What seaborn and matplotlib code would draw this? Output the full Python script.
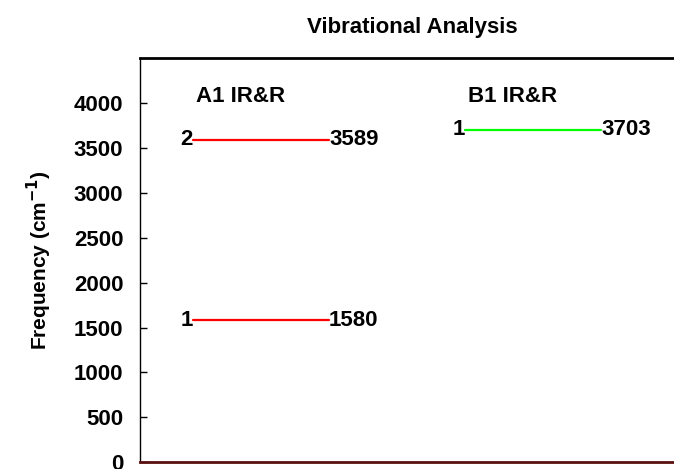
import matplotlib
matplotlib.use("Agg")
import matplotlib.pyplot as plt
import seaborn as sns
import pandas as pd

# Vibrational modes: symmetry species, mode index and frequency (cm^-1)
species = ["A1 IR&R", "A1 IR&R", "B1 IR&R"]
mode_no = [2, 1, 1]
freq = [3589, 1580, 3703]
species_order = ["A1 IR&R", "B1 IR&R"]
species_colors = ["#ff0000", "#00ff00"]
yticks = [0, 500, 1000, 1500, 2000, 2500, 3000, 3500, 4000]

sns.set_theme(style="white")
plt.rcParams["font.family"] = ["Liberation Sans", "DejaVu Sans"]
plt.rcParams["font.weight"] = "bold"
plt.rcParams["mathtext.default"] = "bf"
plt.rcParams["text.color"] = "black"
plt.rcParams["axes.labelcolor"] = "black"
plt.rcParams["ytick.color"] = "black"
plt.rcParams["ytick.left"] = True
plt.rcParams["ytick.direction"] = "in"

half = 0.25
rows = []
for i, (sp, m, f) in enumerate(zip(species, mode_no, freq)):
    xc = species_order.index(sp)
    rows.append({"x": xc - half, "freq": f, "species": sp, "seg": i})
    rows.append({"x": xc + half, "freq": f, "species": sp, "seg": i})
df = pd.DataFrame(rows)

fig = plt.figure(figsize=(6.74, 4.69), dpi=100)
W, H = 674, 469
ax = fig.add_axes([140 / W, (H - 462.3) / H, (700 - 140) / W, (462.3 - 58) / H])

sns.lineplot(data=df, x="x", y="freq", hue="species", units="seg",
             estimator=None, hue_order=species_order,
             palette=species_colors, linewidth=1.6, legend=False, ax=ax)

fs = 16
for sp, m, f in zip(species, mode_no, freq):
    xc = species_order.index(sp)
    ax.text(xc - half, f, f"{m}", ha="right", va="center",
            fontsize=fs, fontweight="bold", color="black")
    ax.text(xc + half, f, f"{f}", ha="left", va="center",
            fontsize=fs, fontweight="bold", color="black")

for j, sp in enumerate(species_order):
    ax.text(j - half + 0.01, 4076, sp, ha="left", va="center",
            fontsize=fs, fontweight="bold", color="black")

ax.set_xlim(-0.445, 1.614)
ax.set_ylim(0, 4500)
ax.set_yticks(yticks)
ax.set_yticklabels([str(t) for t in yticks], fontsize=fs, fontweight="bold")
ax.set_xticks([])
ax.set_xlabel("")
ax.set_ylabel("Frequency (cm$^{-1}$)", fontsize=15, fontweight="bold", labelpad=14)
ax.tick_params(axis="y", which="major", direction="in", length=5, width=1,
               pad=12, left=True, color="black", labelcolor="black")

ax.spines["right"].set_visible(False)
ax.spines["top"].set_color("black")
ax.spines["top"].set_linewidth(2)
ax.spines["left"].set_color("black")
ax.spines["left"].set_linewidth(1)
ax.spines["bottom"].set_color("#5a0f0f")
ax.spines["bottom"].set_linewidth(2)

fig.text(412 / W, 1 - 28 / H, "Vibrational Analysis", ha="center", va="center",
         fontsize=16, fontweight="bold", color="black")

fig.savefig("out.png", dpi=100)
